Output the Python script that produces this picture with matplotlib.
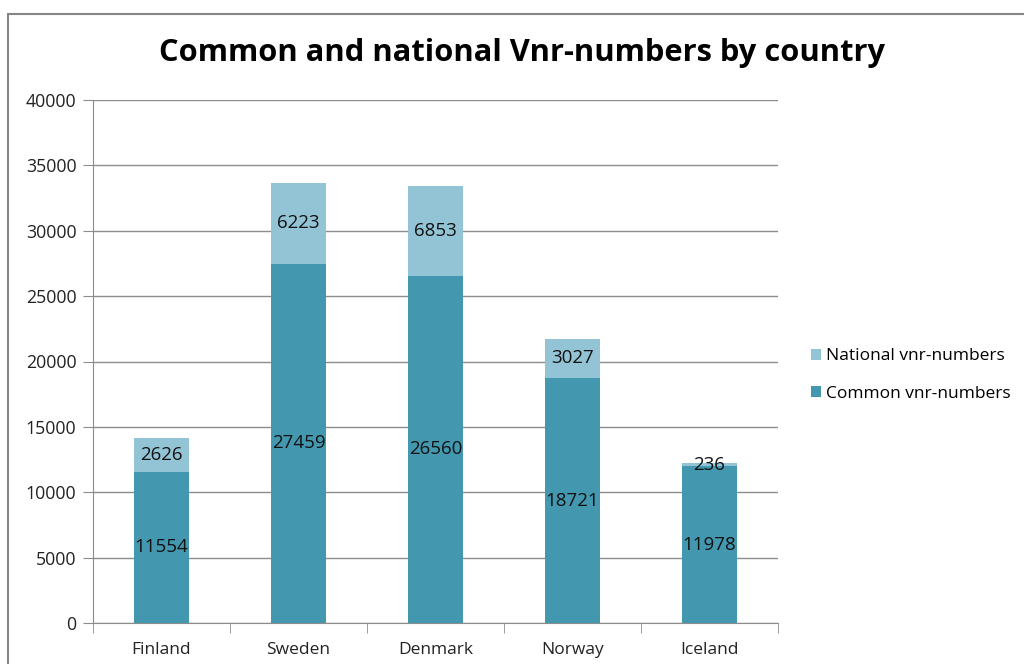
import matplotlib.pyplot as plt
import numpy as np
from matplotlib.patches import Rectangle

# data
countries = ['Finland', 'Sweden', 'Denmark', 'Norway', 'Iceland']
common = [11554, 27459, 26560, 18721, 11978]
national = [2626, 6223, 6853, 3027, 236]

c_common = '#4398B0'
c_national = '#93C4D6'

plt.rcParams['font.family'] = ['Open Sans', 'DejaVu Sans']

fig = plt.figure(figsize=(10.24, 6.64), dpi=100)
ax = fig.add_axes([93/1024, 1-623/664, (778-93)/1024, (623-100)/664])

# outer chart frame like Excel
fig.patches.append(Rectangle((8/1024, -0.1), 1.1, 1-14/664+0.1, transform=fig.transFigure,
                             fill=False, edgecolor='#868686', linewidth=1.5))

x = np.arange(len(countries))
b1 = ax.bar(x, common, width=0.4, color=c_common, label='Common vnr-numbers', zorder=3)
b2 = ax.bar(x, national, width=0.4, bottom=common, color=c_national,
            label='National vnr-numbers', zorder=3)

ax.bar_label(b1, labels=[str(v) for v in common], label_type='center', fontsize=13.5, color='#111111')
ax.bar_label(b2, labels=[str(v) for v in national], label_type='center', fontsize=13.5, color='#111111')

ax.set_xlim(-0.5, 4.5)
ax.set_ylim(0, 40000)
ax.set_yticks(range(0, 40001, 5000))
ax.yaxis.grid(True, color='#8c8c8c', linewidth=1)
ax.set_axisbelow(True)

ax.set_xticks(x)
ax.set_xticklabels(countries)
ax.set_xticks(np.arange(-0.5, 5, 1), minor=True)
ax.tick_params(axis='x', which='major', length=0, pad=14, labelsize=12.5, labelcolor='#222222')
ax.tick_params(axis='x', which='minor', length=7, color='#8c8c8c', direction='out')
ax.tick_params(axis='y', length=7, color='#8c8c8c', labelsize=12.8, labelcolor='#222222', pad=5)

for s in ['top', 'right']:
    ax.spines[s].set_visible(False)
for s in ['left', 'bottom']:
    ax.spines[s].set_color('#8c8c8c')

fig.text(522/1024, 1-53/664, 'Common and national Vnr-numbers by country', ha='center', va='center',
         fontsize=22.2, fontweight='bold', color='black')

h, l = ax.get_legend_handles_labels()
fig.legend(h[::-1], l[::-1], loc='center left', bbox_to_anchor=(795/1024, 1-375/664), frameon=False,
           fontsize=12.5, handlelength=0.6, handleheight=0.6, handletextpad=0.3, labelspacing=1.25)

fig.savefig('out.png', dpi=100)
